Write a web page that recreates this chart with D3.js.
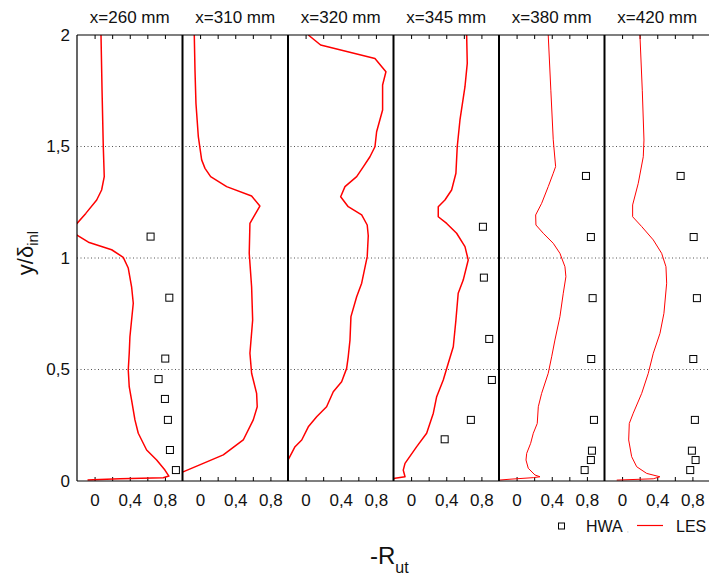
<!DOCTYPE html>
<html><head><meta charset="utf-8">
<script src="https://cdn.jsdelivr.net/npm/d3@7"></script>
<style>
body{margin:0;background:#fff;}
svg{display:block;font-family:"Liberation Sans",Arial,Helvetica,sans-serif;}
</style></head>
<body>
<svg id="chart" width="709" height="577"></svg>
<script>
const panels = ["x=260 mm","x=310 mm","x=320 mm","x=345 mm","x=380 mm","x=420 mm"];
const xTicks = [0, 0.4, 0.8];
const xMinor = [0, 0.2, 0.4, 0.6, 0.8];
const yTicks = [0, 0.5, 1, 1.5, 2];
const yTickLabels = ["0","0,5","1","1,5","2"];

const les260 = [[0.073,2.0],[0.085,1.75],[0.099,1.5],[0.11,1.365],[0.08,1.305],[0.024,1.26],[-0.1,1.2],[-0.2,1.155],[-0.27,1.13],[-0.2,1.103],[-0.07,1.071],[0.194,1.037],[0.326,1.003],[0.383,0.955],[0.421,0.871],[0.44,0.797],[0.421,0.722],[0.402,0.647],[0.394,0.573],[0.383,0.498],[0.394,0.423],[0.421,0.363],[0.459,0.274],[0.497,0.214],[0.592,0.139],[0.706,0.094],[0.8,0.049],[0.845,0.022],[0.781,0.015],[0.289,0.010],[-0.015,0.006],[-0.08,0.004]];
const les310 = [[-0.066,2.0],[-0.058,1.843],[-0.047,1.694],[-0.02,1.544],[0.018,1.44],[0.056,1.402],[0.12,1.365],[0.302,1.32],[0.586,1.278],[0.68,1.233],[0.567,1.155],[0.559,1.021],[0.586,0.871],[0.598,0.722],[0.567,0.573],[0.586,0.483],[0.643,0.393],[0.65,0.333],[0.605,0.274],[0.491,0.184],[0.264,0.117],[0.036,0.079],[-0.2,0.04]];
const les320 = [[0.031,2.0],[0.171,1.955],[0.789,1.895],[0.914,1.835],[0.876,1.776],[0.876,1.664],[0.808,1.566],[0.789,1.499],[0.732,1.454],[0.656,1.409],[0.581,1.365],[0.448,1.32],[0.399,1.275],[0.485,1.23],[0.638,1.193],[0.701,1.148],[0.713,1.1],[0.701,1.006],[0.638,0.887],[0.581,0.826],[0.516,0.737],[0.505,0.632],[0.485,0.557],[0.467,0.505],[0.41,0.445],[0.315,0.4],[0.239,0.333],[0.126,0.288],[0.031,0.243],[-0.044,0.184],[-0.12,0.154],[-0.2,0.094]];
const les345 = [[0.632,2.0],[0.639,1.873],[0.613,1.768],[0.556,1.619],[0.525,1.499],[0.51,1.38],[0.461,1.305],[0.385,1.26],[0.309,1.23],[0.309,1.185],[0.405,1.155],[0.518,1.111],[0.613,1.051],[0.65,0.991],[0.593,0.901],[0.536,0.842],[0.51,0.722],[0.48,0.602],[0.423,0.528],[0.366,0.453],[0.291,0.378],[0.253,0.304],[0.177,0.214],[0.064,0.154],[-0.069,0.079],[-0.089,0.049],[-0.069,0.019],[-0.183,0.012],[-0.2,0.01]];
const les380 = [[0.36,2.0],[0.39,1.75],[0.417,1.53],[0.444,1.41],[0.417,1.38],[0.36,1.32],[0.285,1.245],[0.217,1.193],[0.22,1.148],[0.303,1.111],[0.417,1.066],[0.493,1.021],[0.55,0.961],[0.561,0.916],[0.531,0.842],[0.493,0.737],[0.436,0.632],[0.399,0.557],[0.36,0.483],[0.285,0.393],[0.247,0.333],[0.235,0.258],[0.19,0.214],[0.16,0.169],[0.115,0.124],[0.107,0.094],[0.133,0.057],[0.209,0.027],[0.266,0.019],[0.19,0.015],[-0.075,0.008],[-0.2,0.004]];
const les420 = [[0.203,2.0],[0.23,1.75],[0.249,1.529],[0.241,1.454],[0.184,1.335],[0.12,1.238],[0.12,1.185],[0.223,1.141],[0.355,1.081],[0.45,1.021],[0.499,0.961],[0.507,0.887],[0.476,0.752],[0.431,0.662],[0.355,0.573],[0.298,0.483],[0.223,0.393],[0.127,0.304],[0.082,0.258],[0.075,0.184],[0.109,0.109],[0.166,0.064],[0.28,0.034],[0.43,0.019],[0.355,0.01],[-0.061,0.004]];

const hwa260 = [[0.637,1.096],[0.85,0.822],[0.804,0.549],[0.728,0.457],[0.8,0.368],[0.834,0.274],[0.857,0.139],[0.925,0.049]];
const hwa310 = [];
const hwa320 = [];
const hwa345 = [[0.817,1.14],[0.828,0.912],[0.889,0.637],[0.919,0.453],[0.68,0.274],[0.382,0.187]];
const hwa380 = [[0.789,1.368],[0.845,1.094],[0.865,0.82],[0.849,0.547],[0.88,0.274],[0.857,0.136],[0.845,0.094],[0.774,0.049]];
const hwa420 = [[0.666,1.368],[0.814,1.094],[0.851,0.82],[0.81,0.547],[0.828,0.274],[0.794,0.136],[0.836,0.094],[0.775,0.049]];

const lesData = [les260, les310, les320, les345, les380, les420];
const hwaData = [hwa260, hwa310, hwa320, hwa345, hwa380, hwa420];
const lineWidths = [1.5,1.5,1.5,1.5,1,1];

const svg = d3.select("#chart");
const plotL = 77, plotT = 35, plotB = 481, panelW = 105.5;
const y = d3.scaleLinear().domain([0,2]).range([plotB, plotT]);

// gridlines
svg.append("g").selectAll("line").data([0.5,1,1.5]).join("line")
  .attr("x1", plotL).attr("x2", plotL + 6*panelW)
  .attr("y1", d=>y(d)).attr("y2", d=>y(d))
  .attr("stroke", "#555").attr("stroke-width", 1).attr("stroke-dasharray", "1,2.5");

const defs = svg.append("defs");

panels.forEach((title, i) => {
  const x0 = plotL + i*panelW;
  const x = d3.scaleLinear().domain([-0.2, 1.0]).range([x0, x0 + panelW]);
  defs.append("clipPath").attr("id", "clip"+i).append("rect")
    .attr("x", x0).attr("y", plotT).attr("width", panelW).attr("height", plotB-plotT);
  const g = svg.append("g");
  g.append("text").attr("x", x0 + panelW/2).attr("y", 23).attr("text-anchor","middle")
    .attr("font-size", 17).attr("fill","#111").text(title);
  g.append("g").attr("transform", `translate(0,${plotT})`)
    .call(d3.axisBottom(x).tickValues(xMinor).tickSize(4).tickFormat(""))
    .call(s=>s.select(".domain").remove())
    .call(s=>s.selectAll("line").attr("stroke","#000"));
  g.append("g").attr("transform", `translate(0,${plotB})`)
    .call(d3.axisTop(x).tickValues(xMinor).tickSize(4).tickFormat(""))
    .call(s=>s.select(".domain").remove())
    .call(s=>s.selectAll("line").attr("stroke","#000"));
  g.append("g").attr("transform", `translate(0,${plotB})`)
    .call(d3.axisBottom(x).tickValues(xTicks).tickSize(0).tickPadding(13)
      .tickFormat(d=>d3.format(".1~f")(d).replace(".",",")))
    .call(s=>s.select(".domain").remove())
    .call(s=>s.selectAll("text").attr("font-size",17).attr("fill","#111")
      .attr("font-family",'"Liberation Sans",Arial,sans-serif'));
  const line = d3.line().x(d=>x(d[0])).y(d=>y(d[1]));
  g.append("path").datum(lesData[i]).attr("d", line)
    .attr("fill","none").attr("stroke","#ff0000").attr("stroke-width", lineWidths[i])
    .attr("stroke-linejoin","round").attr("clip-path", `url(#clip${i})`);
  g.selectAll("rect.hwa").data(hwaData[i]).join("rect").attr("class","hwa")
    .attr("x", d=>x(d[0])-3.5).attr("y", d=>y(d[1])-3.5)
    .attr("width",7).attr("height",7)
    .attr("fill","#fff").attr("stroke","#000").attr("stroke-width",1);
  if (i > 0) {
    g.append("line").attr("x1", x0).attr("x2", x0).attr("y1", plotT).attr("y2", plotB)
      .attr("stroke","#000").attr("stroke-width",2);
  }
});

svg.append("line").attr("x1", plotL).attr("x2", 709).attr("y1", plotT).attr("y2", plotT)
  .attr("stroke","#000").attr("stroke-width",1.2);
svg.append("line").attr("x1", plotL).attr("x2", 709).attr("y1", plotB).attr("y2", plotB)
  .attr("stroke","#000").attr("stroke-width",1.2);
svg.append("line").attr("x1", plotL).attr("x2", plotL).attr("y1", plotT).attr("y2", plotB)
  .attr("stroke","#000").attr("stroke-width",1.2);

svg.append("g").attr("transform", `translate(${plotL},0)`)
  .call(d3.axisLeft(y).tickValues(yTicks).tickSize(0).tickPadding(7)
    .tickFormat((d,k)=>yTickLabels[k]))
  .call(s=>s.select(".domain").remove())
  .call(s=>s.selectAll("text").attr("font-size",17).attr("fill","#111")
    .attr("font-family",'"Liberation Sans",Arial,sans-serif'));

const yt = svg.append("text").attr("transform","translate(33,253) rotate(-90)")
  .attr("text-anchor","middle").attr("font-size",22).attr("fill","#111");
yt.append("tspan").text("y/δ");
yt.append("tspan").attr("font-size",15).attr("dy",5).text("inl");

const xt = svg.append("text").attr("x", 370).attr("y", 564)
  .attr("font-size",24).attr("fill","#111");
xt.append("tspan").text("-R");
xt.append("tspan").attr("font-size",16).attr("dy",9).text("ut");

svg.append("rect").attr("x",558.5).attr("y",523).attr("width",6).attr("height",6)
  .attr("fill","#fff").attr("stroke","#000").attr("stroke-width",1);
svg.append("text").attr("x",586).attr("y",532).attr("font-size",16).attr("fill","#111").text("HWA");
svg.append("text").attr("x",627).attr("y",532).attr("font-size",6).attr("fill","#777").text(",");
svg.append("line").attr("x1",637).attr("x2",663).attr("y1",525.5).attr("y2",525.5)
  .attr("stroke","#ff0000").attr("stroke-width",1.2);
svg.append("text").attr("x",676).attr("y",532).attr("font-size",16).attr("fill","#111").text("LES");
</script>
</body></html>
